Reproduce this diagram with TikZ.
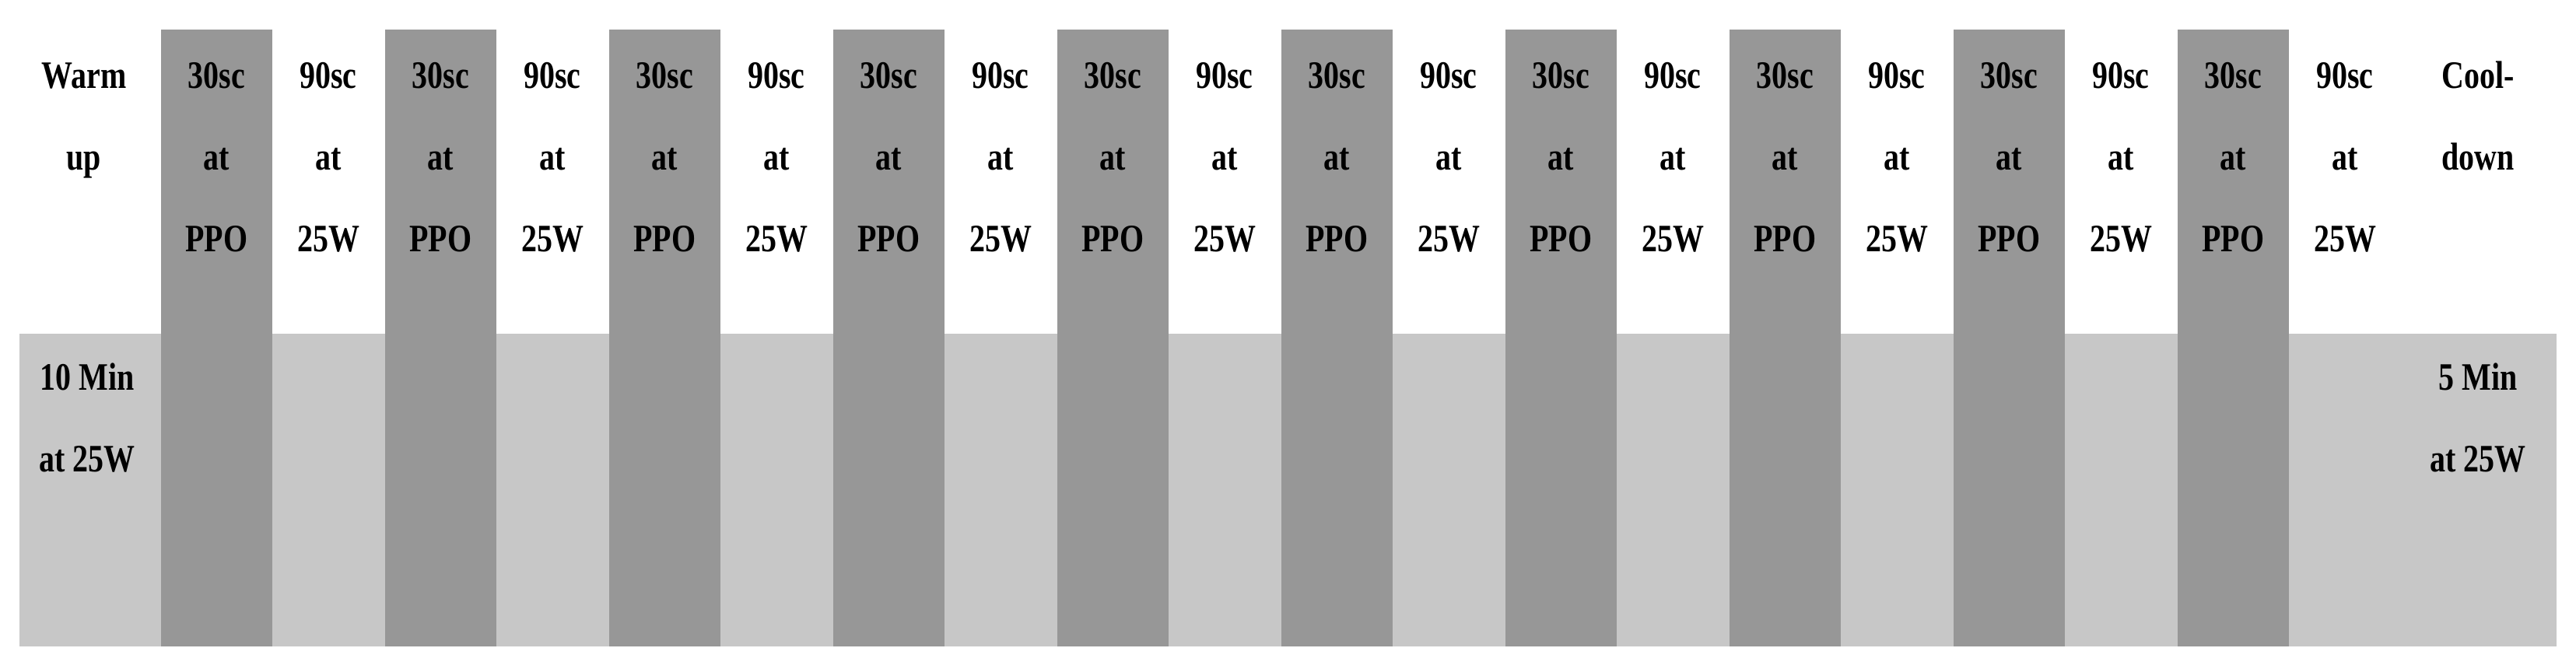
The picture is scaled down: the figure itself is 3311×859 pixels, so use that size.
\documentclass[tikz,border=0pt]{standalone}
\usepackage{fontspec}
\usepackage{tikz}
\usepackage{xcolor}
\newfontfamily\stagefont[FakeStretch=0.8]{Liberation Serif}
\definecolor{bandgray}{HTML}{C7C7C7}
\definecolor{sprintgray}{HTML}{979797}
\tikzset{
    lbl/.style={anchor=north,align=center,inner sep=0pt,
        font=\stagefont\bfseries\fontsize{14.2}{29.8}\selectfont},
}

\begin{document}
\begin{tikzpicture}[x=0.01cm,y=-0.01cm]
    \useasboundingbox (0,0) rectangle (3311,859);
    \fill [bandgray] (25,429) rectangle (3286,831);
    \foreach \i in {0,...,9}{
        \fill [sprintgray] (207+288*\i,38) rectangle (350+288*\i,831);
        \node [lbl] (S\i) at (278.5+288*\i,39.5) {\strut 30sc\\at\\PPO};
        \node [lbl] (R\i) at (422+288*\i,39.5) {\strut 90sc\\at\\25W};
    }
    \node [lbl] (W1) at (108,39.5) {\strut Warm\\up};
    \node [lbl] (W2) at (112,427.5) {\strut 10 Min\\at 25W};
    \node [lbl] (C1) at (3185,39.5) {\strut Cool-\\down};
    \node [lbl] (C2) at (3185,427.5) {\strut 5 Min\\at 25W};

\end{tikzpicture}
\end{document}
